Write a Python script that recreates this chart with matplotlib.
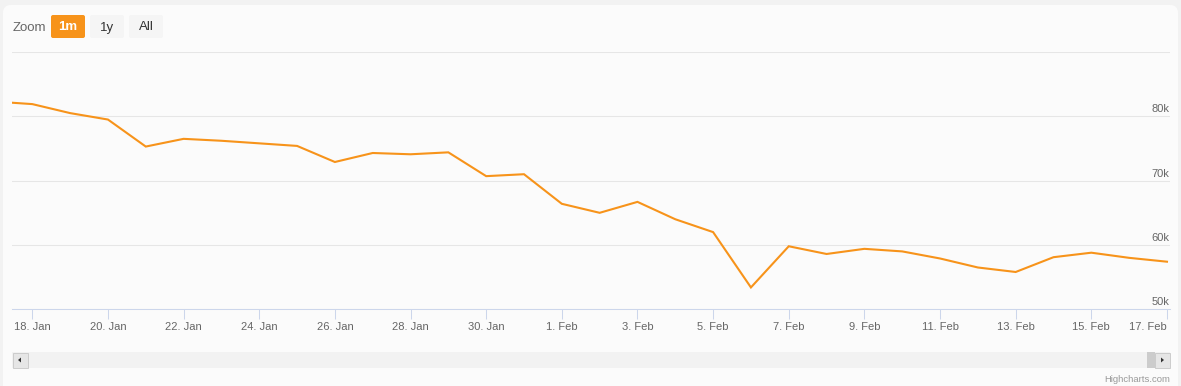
import matplotlib
matplotlib.use('Agg')
import matplotlib.pyplot as plt
import matplotlib.dates as mdates
from matplotlib.patches import FancyBboxPatch, Rectangle
import pandas as pd

# daily closing values (in thousands), 17 Jan .. 17 Feb
start_day = '2018-01-17'
price_k = [82.3, 81.9, 80.5, 79.5, 75.3, 76.5, 76.2, 75.8, 75.4, 72.9,
           74.3, 74.1, 74.4, 70.7, 71.0, 66.4, 65.0, 66.7, 64.0, 62.0,
           53.4, 59.8, 58.6, 59.4, 59.0, 57.9, 56.5, 55.8, 58.1, 58.8,
           58.0, 57.4]
dates = pd.date_range(start_day, periods=len(price_k), freq='D')

tick_days = ['2018-01-18', '2018-01-20', '2018-01-22', '2018-01-24', '2018-01-26',
             '2018-01-28', '2018-01-30', '2018-02-01', '2018-02-03', '2018-02-05',
             '2018-02-07', '2018-02-09', '2018-02-11', '2018-02-13', '2018-02-15',
             '2018-02-17']
tick_labels = ['18. Jan', '20. Jan', '22. Jan', '24. Jan', '26. Jan', '28. Jan',
               '30. Jan', '1. Feb', '3. Feb', '5. Feb', '7. Feb', '9. Feb',
               '11. Feb', '13. Feb', '15. Feb', '17. Feb']
y_ticks = [50, 60, 70, 80, 90]
y_labels = ['50k', '60k', '70k', '80k', '']

W, H = 1181, 386
plt.rcParams['font.family'] = ['Liberation Sans', 'DejaVu Sans']
fig = plt.figure(figsize=(W / 100, H / 100), dpi=100)
fig.patch.set_facecolor('#f2f2f2')

# full-figure pixel axes for chrome
bg = fig.add_axes([0, 0, 1, 1], zorder=0)
bg.set_xlim(0, W)
bg.set_ylim(H, 0)
bg.axis('off')
bg.add_patch(FancyBboxPatch((3, 5), 1175, 400, boxstyle='round,pad=0,rounding_size=8',
                            fc='#fbfbfb', ec='none'))

# range selector
bg.text(13, 28, 'Zoom', fontsize=9.5, color='#666666', va='center', ha='left')
buttons = [('1m', 51, '#f7931a', 'white', 'bold'),
           ('1y', 90, '#f5f5f5', '#333333', 'normal'),
           ('All', 129, '#f5f5f5', '#333333', 'normal')]
for lab, bx, fc, tc, fw in buttons:
    bg.add_patch(FancyBboxPatch((bx, 15), 34, 23, boxstyle='round,pad=0,rounding_size=2',
                                fc=fc, ec='none'))
    bg.text(bx + 17, 27.5, lab, fontsize=9.5, color=tc, fontweight=fw, ha='center', va='center')

# scrollbar
bg.add_patch(Rectangle((12, 352), 1158, 16, fc='#f2f2f2', ec='none'))
bg.add_patch(Rectangle((1147, 352), 8, 16, fc='#cccccc', ec='none'))
bg.add_patch(Rectangle((12.5, 352.5), 15, 15, fc='#e6e6e6', ec='#cccccc', lw=0.7))
bg.add_patch(Rectangle((1154.5, 352.5), 15, 15, fc='#e6e6e6', ec='#cccccc', lw=0.7))
bg.fill([21, 21, 18], [357.5, 362.5, 360], color='#333333', lw=0)
bg.fill([1161, 1161, 1164], [357.5, 362.5, 360], color='#333333', lw=0)
bg.text(1170, 379, 'Highcharts.com', fontsize=6.8, color='#999999', ha='right', va='center')

# plot area
left, right, top, bottom = 12, 1170, 52, 309.3
ax = fig.add_axes([left / W, (H - bottom) / H, (right - left) / W, (bottom - top) / H], zorder=1)
ax.set_facecolor('none')
ax.plot(dates, price_k, color='#f7931a', lw=1.5, solid_joinstyle='miter', zorder=3)

x0 = pd.Timestamp('2018-01-18') - pd.Timedelta(days=0.537)
x1 = pd.Timestamp('2018-01-18') + pd.Timedelta(days=30.08)
ax.set_xlim(x0, x1)
ax.set_ylim(50, 90)

for v in y_ticks:
    ax.axhline(v, color='#e6e6e6', lw=0.75, zorder=1)
for v, lab in zip(y_ticks, y_labels):
    ax.annotate(lab, xy=(1, v), xycoords=('axes fraction', 'data'), xytext=(-1, 2),
                textcoords='offset pixels', ha='right', va='bottom', fontsize=8,
                color='#666666')

ax.set_yticks([])
ax.set_xticks([mdates.date2num(pd.Timestamp(d)) for d in tick_days])
ax.set_xticklabels(tick_labels)
ax.get_xticklabels()[-1].set_ha('right')
ax.tick_params(axis='x', length=7.2, width=0.75, color='#ccd6eb', pad=2,
               labelsize=8, labelcolor='#666666')
for s in ['top', 'left', 'right']:
    ax.spines[s].set_visible(False)
ax.spines['bottom'].set_color('#ccd6eb')
ax.spines['bottom'].set_linewidth(0.75)

fig.savefig('out.png', dpi=100, facecolor=fig.get_facecolor())
